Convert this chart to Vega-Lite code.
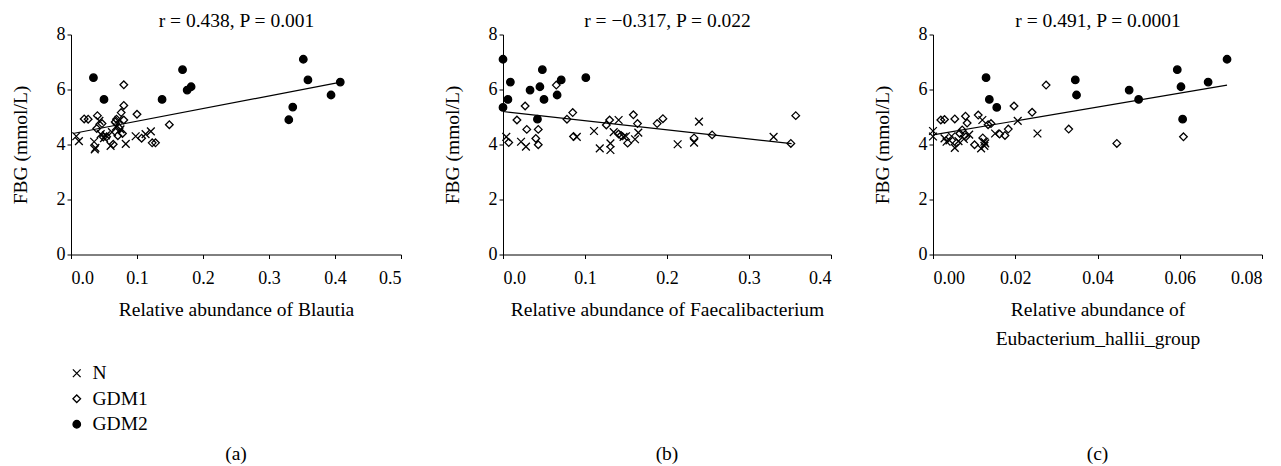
{
  "$schema": "https://vega.github.io/schema/vega-lite/v6.json",
  "background": "white",
  "padding": {"left": 10, "top": 10.5, "right": 0, "bottom": 0},
  "config": {
    "font": "Liberation Serif",
    "view": {"stroke": null},
    "axis": {"domainColor": "black", "tickColor": "black", "labelColor": "black", "titleColor": "black", "grid": false, "labelFont": "Liberation Serif", "titleFont": "Liberation Serif", "labelFontSize": 18, "titleFontSize": 19.5, "titleFontWeight": "normal", "tickSize": 4, "domainWidth": 1, "tickWidth": 1},
    "axisY": {"labelPadding": 2, "titlePadding": 26},
    "axisX": {"labelPadding": 10.5, "titlePadding": 13.5, "titleLineHeight": 29.4},
    "title": {"font": "Liberation Serif", "fontSize": 19.5, "fontWeight": "normal", "color": "black", "anchor": "middle", "frame": "group"},
    "legend": {"labelFont": "Liberation Serif", "labelFontSize": 19.5, "labelColor": "black", "symbolStrokeColor": "black", "symbolStrokeWidth": 1.3, "rowPadding": 4.5, "labelOffset": 6}
  },
  "datasets": {
    "pts": [
      {"panel": "a", "group": "GDM2", "abundance": 0.034, "fbg": 6.43},
      {"panel": "a", "group": "GDM2", "abundance": 0.050, "fbg": 5.64},
      {"panel": "a", "group": "GDM2", "abundance": 0.138, "fbg": 5.64},
      {"panel": "a", "group": "GDM2", "abundance": 0.169, "fbg": 6.72},
      {"panel": "a", "group": "GDM2", "abundance": 0.176, "fbg": 5.98},
      {"panel": "a", "group": "GDM2", "abundance": 0.182, "fbg": 6.10},
      {"panel": "a", "group": "GDM2", "abundance": 0.352, "fbg": 7.10},
      {"panel": "a", "group": "GDM2", "abundance": 0.359, "fbg": 6.35},
      {"panel": "a", "group": "GDM2", "abundance": 0.336, "fbg": 5.36},
      {"panel": "a", "group": "GDM2", "abundance": 0.330, "fbg": 4.90},
      {"panel": "a", "group": "GDM2", "abundance": 0.394, "fbg": 5.80},
      {"panel": "a", "group": "GDM2", "abundance": 0.408, "fbg": 6.27},
      {"panel": "a", "group": "GDM1", "abundance": 0.020, "fbg": 4.93},
      {"panel": "a", "group": "GDM1", "abundance": 0.026, "fbg": 4.92},
      {"panel": "a", "group": "GDM1", "abundance": 0.040, "fbg": 5.05},
      {"panel": "a", "group": "GDM1", "abundance": 0.039, "fbg": 4.58},
      {"panel": "a", "group": "GDM1", "abundance": 0.047, "fbg": 4.76},
      {"panel": "a", "group": "GDM1", "abundance": 0.049, "fbg": 4.27},
      {"panel": "a", "group": "GDM1", "abundance": 0.080, "fbg": 6.17},
      {"panel": "a", "group": "GDM1", "abundance": 0.080, "fbg": 5.42},
      {"panel": "a", "group": "GDM1", "abundance": 0.076, "fbg": 5.16},
      {"panel": "a", "group": "GDM1", "abundance": 0.069, "fbg": 4.92},
      {"panel": "a", "group": "GDM1", "abundance": 0.067, "fbg": 4.82},
      {"panel": "a", "group": "GDM1", "abundance": 0.080, "fbg": 4.89},
      {"panel": "a", "group": "GDM1", "abundance": 0.078, "fbg": 4.40},
      {"panel": "a", "group": "GDM1", "abundance": 0.071, "fbg": 4.32},
      {"panel": "a", "group": "GDM1", "abundance": 0.064, "fbg": 4.01},
      {"panel": "a", "group": "GDM1", "abundance": 0.100, "fbg": 5.10},
      {"panel": "a", "group": "GDM1", "abundance": 0.107, "fbg": 4.23},
      {"panel": "a", "group": "GDM1", "abundance": 0.123, "fbg": 4.06},
      {"panel": "a", "group": "GDM1", "abundance": 0.128, "fbg": 4.06},
      {"panel": "a", "group": "GDM1", "abundance": 0.149, "fbg": 4.72},
      {"panel": "a", "group": "GDM1", "abundance": 0.054, "fbg": 4.28},
      {"panel": "a", "group": "GDM1", "abundance": 0.073, "fbg": 4.60},
      {"panel": "a", "group": "N", "abundance": 0.008, "fbg": 4.30},
      {"panel": "a", "group": "N", "abundance": 0.012, "fbg": 4.12},
      {"panel": "a", "group": "N", "abundance": 0.035, "fbg": 4.10},
      {"panel": "a", "group": "N", "abundance": 0.036, "fbg": 3.82},
      {"panel": "a", "group": "N", "abundance": 0.037, "fbg": 3.88},
      {"panel": "a", "group": "N", "abundance": 0.043, "fbg": 4.86},
      {"panel": "a", "group": "N", "abundance": 0.050, "fbg": 4.23},
      {"panel": "a", "group": "N", "abundance": 0.053, "fbg": 4.33},
      {"panel": "a", "group": "N", "abundance": 0.060, "fbg": 3.95},
      {"panel": "a", "group": "N", "abundance": 0.068, "fbg": 4.65},
      {"panel": "a", "group": "N", "abundance": 0.072, "fbg": 4.90},
      {"panel": "a", "group": "N", "abundance": 0.083, "fbg": 4.02},
      {"panel": "a", "group": "N", "abundance": 0.098, "fbg": 4.30},
      {"panel": "a", "group": "N", "abundance": 0.113, "fbg": 4.38},
      {"panel": "a", "group": "N", "abundance": 0.121, "fbg": 4.48},
      {"panel": "a", "group": "N", "abundance": 0.045, "fbg": 4.38},
      {"panel": "a", "group": "N", "abundance": 0.062, "fbg": 4.45},
      {"panel": "a", "group": "N", "abundance": 0.075, "fbg": 4.55},

      {"panel": "b", "group": "GDM2", "abundance": 0.000, "fbg": 7.10},
      {"panel": "b", "group": "GDM2", "abundance": 0.000, "fbg": 5.35},
      {"panel": "b", "group": "GDM2", "abundance": 0.006, "fbg": 5.64},
      {"panel": "b", "group": "GDM2", "abundance": 0.009, "fbg": 6.27},
      {"panel": "b", "group": "GDM2", "abundance": 0.033, "fbg": 5.98},
      {"panel": "b", "group": "GDM2", "abundance": 0.048, "fbg": 6.72},
      {"panel": "b", "group": "GDM2", "abundance": 0.045, "fbg": 6.10},
      {"panel": "b", "group": "GDM2", "abundance": 0.050, "fbg": 5.64},
      {"panel": "b", "group": "GDM2", "abundance": 0.042, "fbg": 4.92},
      {"panel": "b", "group": "GDM2", "abundance": 0.071, "fbg": 6.35},
      {"panel": "b", "group": "GDM2", "abundance": 0.066, "fbg": 5.80},
      {"panel": "b", "group": "GDM2", "abundance": 0.101, "fbg": 6.43},
      {"panel": "b", "group": "GDM1", "abundance": 0.027, "fbg": 5.40},
      {"panel": "b", "group": "GDM1", "abundance": 0.017, "fbg": 4.89},
      {"panel": "b", "group": "GDM1", "abundance": 0.029, "fbg": 4.55},
      {"panel": "b", "group": "GDM1", "abundance": 0.007, "fbg": 4.07},
      {"panel": "b", "group": "GDM1", "abundance": 0.040, "fbg": 4.22},
      {"panel": "b", "group": "GDM1", "abundance": 0.043, "fbg": 4.55},
      {"panel": "b", "group": "GDM1", "abundance": 0.043, "fbg": 3.99},
      {"panel": "b", "group": "GDM1", "abundance": 0.065, "fbg": 6.16},
      {"panel": "b", "group": "GDM1", "abundance": 0.078, "fbg": 4.92},
      {"panel": "b", "group": "GDM1", "abundance": 0.085, "fbg": 5.16},
      {"panel": "b", "group": "GDM1", "abundance": 0.086, "fbg": 4.29},
      {"panel": "b", "group": "GDM1", "abundance": 0.126, "fbg": 4.71},
      {"panel": "b", "group": "GDM1", "abundance": 0.130, "fbg": 4.89},
      {"panel": "b", "group": "GDM1", "abundance": 0.141, "fbg": 4.38},
      {"panel": "b", "group": "GDM1", "abundance": 0.152, "fbg": 4.05},
      {"panel": "b", "group": "GDM1", "abundance": 0.159, "fbg": 5.08},
      {"panel": "b", "group": "GDM1", "abundance": 0.164, "fbg": 4.76},
      {"panel": "b", "group": "GDM1", "abundance": 0.188, "fbg": 4.76},
      {"panel": "b", "group": "GDM1", "abundance": 0.195, "fbg": 4.94},
      {"panel": "b", "group": "GDM1", "abundance": 0.233, "fbg": 4.24},
      {"panel": "b", "group": "GDM1", "abundance": 0.255, "fbg": 4.35},
      {"panel": "b", "group": "GDM1", "abundance": 0.351, "fbg": 4.04},
      {"panel": "b", "group": "GDM1", "abundance": 0.357, "fbg": 5.05},
      {"panel": "b", "group": "GDM1", "abundance": 0.144, "fbg": 4.33},
      {"panel": "b", "group": "N", "abundance": 0.004, "fbg": 4.28},
      {"panel": "b", "group": "N", "abundance": 0.022, "fbg": 4.10},
      {"panel": "b", "group": "N", "abundance": 0.028, "fbg": 3.92},
      {"panel": "b", "group": "N", "abundance": 0.090, "fbg": 4.28},
      {"panel": "b", "group": "N", "abundance": 0.111, "fbg": 4.49},
      {"panel": "b", "group": "N", "abundance": 0.118, "fbg": 3.86},
      {"panel": "b", "group": "N", "abundance": 0.131, "fbg": 3.80},
      {"panel": "b", "group": "N", "abundance": 0.131, "fbg": 4.04},
      {"panel": "b", "group": "N", "abundance": 0.141, "fbg": 4.89},
      {"panel": "b", "group": "N", "abundance": 0.147, "fbg": 4.28},
      {"panel": "b", "group": "N", "abundance": 0.161, "fbg": 4.19},
      {"panel": "b", "group": "N", "abundance": 0.165, "fbg": 4.43},
      {"panel": "b", "group": "N", "abundance": 0.213, "fbg": 4.01},
      {"panel": "b", "group": "N", "abundance": 0.233, "fbg": 4.07},
      {"panel": "b", "group": "N", "abundance": 0.239, "fbg": 4.83},
      {"panel": "b", "group": "N", "abundance": 0.330, "fbg": 4.28},
      {"panel": "b", "group": "N", "abundance": 0.135, "fbg": 4.45},
      {"panel": "b", "group": "N", "abundance": 0.150, "fbg": 4.30},

      {"panel": "c", "group": "GDM2", "abundance": 0.0129, "fbg": 6.43},
      {"panel": "c", "group": "GDM2", "abundance": 0.0137, "fbg": 5.64},
      {"panel": "c", "group": "GDM2", "abundance": 0.0155, "fbg": 5.35},
      {"panel": "c", "group": "GDM2", "abundance": 0.0346, "fbg": 6.35},
      {"panel": "c", "group": "GDM2", "abundance": 0.0349, "fbg": 5.80},
      {"panel": "c", "group": "GDM2", "abundance": 0.0477, "fbg": 5.98},
      {"panel": "c", "group": "GDM2", "abundance": 0.0500, "fbg": 5.64},
      {"panel": "c", "group": "GDM2", "abundance": 0.0594, "fbg": 6.72},
      {"panel": "c", "group": "GDM2", "abundance": 0.0603, "fbg": 6.10},
      {"panel": "c", "group": "GDM2", "abundance": 0.0607, "fbg": 4.92},
      {"panel": "c", "group": "GDM2", "abundance": 0.0669, "fbg": 6.27},
      {"panel": "c", "group": "GDM2", "abundance": 0.0715, "fbg": 7.10},
      {"panel": "c", "group": "GDM1", "abundance": 0.0019, "fbg": 4.89},
      {"panel": "c", "group": "GDM1", "abundance": 0.0028, "fbg": 4.91},
      {"panel": "c", "group": "GDM1", "abundance": 0.0053, "fbg": 4.93},
      {"panel": "c", "group": "GDM1", "abundance": 0.0079, "fbg": 5.03},
      {"panel": "c", "group": "GDM1", "abundance": 0.0083, "fbg": 4.78},
      {"panel": "c", "group": "GDM1", "abundance": 0.0110, "fbg": 5.07},
      {"panel": "c", "group": "GDM1", "abundance": 0.0134, "fbg": 4.72},
      {"panel": "c", "group": "GDM1", "abundance": 0.0141, "fbg": 4.76},
      {"panel": "c", "group": "GDM1", "abundance": 0.0071, "fbg": 4.53},
      {"panel": "c", "group": "GDM1", "abundance": 0.0057, "fbg": 4.05},
      {"panel": "c", "group": "GDM1", "abundance": 0.0080, "fbg": 4.28},
      {"panel": "c", "group": "GDM1", "abundance": 0.0101, "fbg": 3.99},
      {"panel": "c", "group": "GDM1", "abundance": 0.0121, "fbg": 4.24},
      {"panel": "c", "group": "GDM1", "abundance": 0.0162, "fbg": 4.38},
      {"panel": "c", "group": "GDM1", "abundance": 0.0175, "fbg": 4.33},
      {"panel": "c", "group": "GDM1", "abundance": 0.0183, "fbg": 4.56},
      {"panel": "c", "group": "GDM1", "abundance": 0.0197, "fbg": 5.40},
      {"panel": "c", "group": "GDM1", "abundance": 0.0241, "fbg": 5.17},
      {"panel": "c", "group": "GDM1", "abundance": 0.0275, "fbg": 6.16},
      {"panel": "c", "group": "GDM1", "abundance": 0.0330, "fbg": 4.56},
      {"panel": "c", "group": "GDM1", "abundance": 0.0447, "fbg": 4.04},
      {"panel": "c", "group": "GDM1", "abundance": 0.0609, "fbg": 4.28},
      {"panel": "c", "group": "GDM1", "abundance": 0.0065, "fbg": 4.40},
      {"panel": "c", "group": "N", "abundance": 0.0000, "fbg": 4.49},
      {"panel": "c", "group": "N", "abundance": 0.0000, "fbg": 4.29},
      {"panel": "c", "group": "N", "abundance": 0.0028, "fbg": 4.22},
      {"panel": "c", "group": "N", "abundance": 0.0033, "fbg": 4.10},
      {"panel": "c", "group": "N", "abundance": 0.0045, "fbg": 4.30},
      {"panel": "c", "group": "N", "abundance": 0.0053, "fbg": 3.88},
      {"panel": "c", "group": "N", "abundance": 0.0075, "fbg": 4.20},
      {"panel": "c", "group": "N", "abundance": 0.0088, "fbg": 4.36},
      {"panel": "c", "group": "N", "abundance": 0.0117, "fbg": 3.86},
      {"panel": "c", "group": "N", "abundance": 0.0120, "fbg": 4.89},
      {"panel": "c", "group": "N", "abundance": 0.0127, "fbg": 4.04},
      {"panel": "c", "group": "N", "abundance": 0.0125, "fbg": 3.95},
      {"panel": "c", "group": "N", "abundance": 0.0151, "fbg": 4.40},
      {"panel": "c", "group": "N", "abundance": 0.0206, "fbg": 4.86},
      {"panel": "c", "group": "N", "abundance": 0.0254, "fbg": 4.40},
      {"panel": "c", "group": "N", "abundance": 0.0040, "fbg": 4.15},
      {"panel": "c", "group": "N", "abundance": 0.0062, "fbg": 4.12},
      {"panel": "c", "group": "N", "abundance": 0.0125, "fbg": 4.10}
    ],
    "fits": [
      {"panel": "a", "abundance": 0.003, "fbg": 4.40},
      {"panel": "a", "abundance": 0.407, "fbg": 6.26},
      {"panel": "b", "abundance": 0.0, "fbg": 5.20},
      {"panel": "b", "abundance": 0.352, "fbg": 4.03},
      {"panel": "c", "abundance": 0.0, "fbg": 4.35},
      {"panel": "c", "abundance": 0.0715, "fbg": 6.16}
    ]
  },
  "spacing": 102,
  "bounds": "flush",
  "resolve": {"scale": {"shape": "shared", "fill": "shared", "size": "shared", "stroke": "shared"}, "legend": {"shape": "shared", "fill": "shared", "size": "shared", "stroke": "shared"}},
  "hconcat": [
    {
      "width": 330, "height": 220,
      "title": {"text": "(a)", "orient": "bottom", "offset": 125.5},
      "resolve": {"axis": {"x": "independent"}},
      "layer": [
        {
          "data": {"name": "pts"},
          "transform": [{"filter": "datum.panel === 'a'"}],
          "mark": {"type": "point", "filled": true, "strokeWidth": 1.3, "opacity": 1},
          "encoding": {
            "x": {"field": "abundance", "type": "quantitative", "scale": {"domain": [0, 0.5], "nice": false}, "axis": {"values": [0, 0.1, 0.2, 0.3, 0.4, 0.5], "format": ".1f", "title": "Relative abundance of Blautia"}},
            "y": {"field": "fbg", "type": "quantitative", "scale": {"domain": [0, 8], "nice": false}, "axis": {"values": [0, 2, 4, 6, 8], "title": "FBG (mmol/L)"}},
            "shape": {"field": "group", "type": "nominal", "scale": {"domain": ["N", "GDM1", "GDM2"], "range": ["M-1,-1L1,1M-1,1L1,-1", "diamond", "circle"]}, "legend": {"title": null, "orient": "none", "legendX": -4, "legendY": 329}},
            "fill": {"field": "group", "type": "nominal", "scale": {"domain": ["N", "GDM1", "GDM2"], "range": ["transparent", "transparent", "black"]}, "legend": {"title": null, "orient": "none", "legendX": -4, "legendY": 329}},
            "stroke": {"field": "group", "type": "nominal", "scale": {"domain": ["N", "GDM1", "GDM2"], "range": ["black", "black", "black"]}, "legend": {"title": null, "orient": "none", "legendX": -4, "legendY": 329}},
            "size": {"field": "group", "type": "nominal", "scale": {"domain": ["N", "GDM1", "GDM2"], "range": [60, 56, 85]}, "legend": {"title": null, "orient": "none", "legendX": -4, "legendY": 329}}
          }
        },
        {
          "data": {"name": "fits"},
          "transform": [{"filter": "datum.panel === 'a'"}],
          "mark": {"type": "line", "color": "black", "strokeWidth": 1.2},
          "encoding": {"x": {"field": "abundance", "type": "quantitative", "axis": {"orient": "top", "title": "r = 0.438, P = 0.001", "domain": false, "ticks": false, "labels": false, "titlePadding": 4}}, "y": {"field": "fbg", "type": "quantitative"}}
        }
      ]
    },
    {
      "width": 328, "height": 220,
      "title": {"text": "(b)", "orient": "bottom", "offset": 125.5},
      "resolve": {"axis": {"x": "independent"}},
      "layer": [
        {
          "data": {"name": "pts"},
          "transform": [{"filter": "datum.panel === 'b'"}],
          "mark": {"type": "point", "filled": true, "strokeWidth": 1.3, "opacity": 1},
          "encoding": {
            "x": {"field": "abundance", "type": "quantitative", "scale": {"domain": [0, 0.4], "nice": false}, "axis": {"values": [0, 0.1, 0.2, 0.3, 0.4], "format": ".1f", "title": "Relative abundance of Faecalibacterium"}},
            "y": {"field": "fbg", "type": "quantitative", "scale": {"domain": [0, 8], "nice": false}, "axis": {"values": [0, 2, 4, 6, 8], "title": "FBG (mmol/L)"}},
            "shape": {"field": "group", "type": "nominal", "legend": {"title": null, "orient": "none", "legendX": -4, "legendY": 329}},
            "fill": {"field": "group", "type": "nominal", "legend": {"title": null, "orient": "none", "legendX": -4, "legendY": 329}},
            "stroke": {"field": "group", "type": "nominal", "legend": {"title": null, "orient": "none", "legendX": -4, "legendY": 329}},
            "size": {"field": "group", "type": "nominal", "legend": {"title": null, "orient": "none", "legendX": -4, "legendY": 329}}
          }
        },
        {
          "data": {"name": "fits"},
          "transform": [{"filter": "datum.panel === 'b'"}],
          "mark": {"type": "line", "color": "black", "strokeWidth": 1.2},
          "encoding": {"x": {"field": "abundance", "type": "quantitative", "axis": {"orient": "top", "title": "r = \u22120.317, P = 0.022", "domain": false, "ticks": false, "labels": false, "titlePadding": 4}}, "y": {"field": "fbg", "type": "quantitative"}}
        }
      ]
    },
    {
      "width": 329, "height": 220,
      "title": {"text": "(c)", "orient": "bottom", "offset": 96.5},
      "resolve": {"axis": {"x": "independent"}},
      "layer": [
        {
          "data": {"name": "pts"},
          "transform": [{"filter": "datum.panel === 'c'"}],
          "mark": {"type": "point", "filled": true, "strokeWidth": 1.3, "opacity": 1},
          "encoding": {
            "x": {"field": "abundance", "type": "quantitative", "scale": {"domain": [0, 0.08], "nice": false}, "axis": {"values": [0, 0.02, 0.04, 0.06, 0.08], "format": ".2f", "title": ["Relative abundance of", "Eubacterium_hallii_group"]}},
            "y": {"field": "fbg", "type": "quantitative", "scale": {"domain": [0, 8], "nice": false}, "axis": {"values": [0, 2, 4, 6, 8], "title": "FBG (mmol/L)"}},
            "shape": {"field": "group", "type": "nominal", "legend": {"title": null, "orient": "none", "legendX": -4, "legendY": 329}},
            "fill": {"field": "group", "type": "nominal", "legend": {"title": null, "orient": "none", "legendX": -4, "legendY": 329}},
            "stroke": {"field": "group", "type": "nominal", "legend": {"title": null, "orient": "none", "legendX": -4, "legendY": 329}},
            "size": {"field": "group", "type": "nominal", "legend": {"title": null, "orient": "none", "legendX": -4, "legendY": 329}}
          }
        },
        {
          "data": {"name": "fits"},
          "transform": [{"filter": "datum.panel === 'c'"}],
          "mark": {"type": "line", "color": "black", "strokeWidth": 1.2},
          "encoding": {"x": {"field": "abundance", "type": "quantitative", "axis": {"orient": "top", "title": "r = 0.491, P = 0.0001", "domain": false, "ticks": false, "labels": false, "titlePadding": 4}}, "y": {"field": "fbg", "type": "quantitative"}}
        }
      ]
    }
  ]
}
